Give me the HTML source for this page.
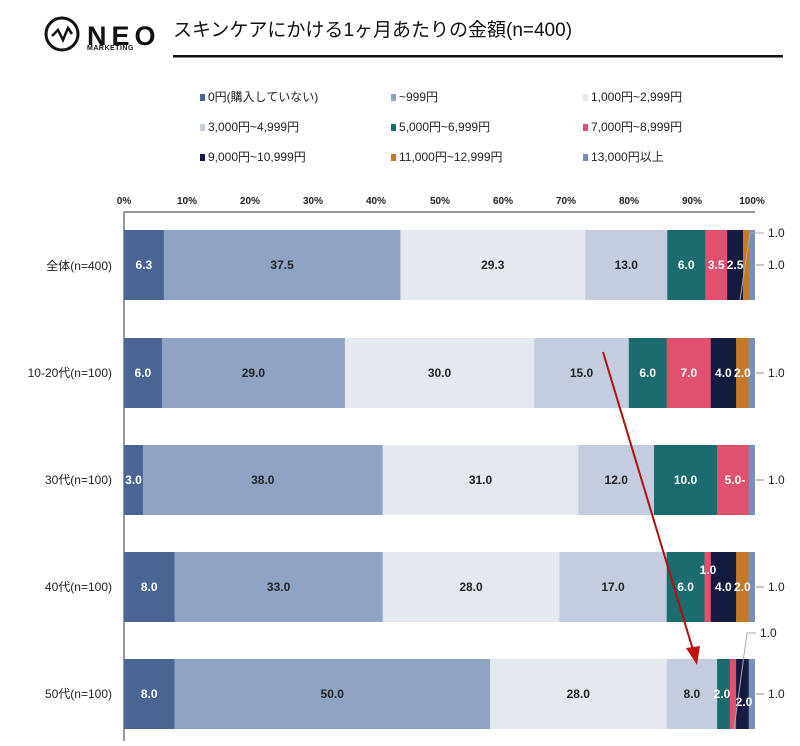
<!DOCTYPE html>
<html><head><meta charset="utf-8"><style>
body{margin:0;background:#fff;}
svg text{font-family:"Liberation Sans","Noto Sans CJK JP",sans-serif;}
</style></head><body>
<svg width="800" height="741" xmlns="http://www.w3.org/2000/svg">
<rect width="800" height="741" fill="#fff"/>
<circle cx="62" cy="34" r="16" fill="none" stroke="#111" stroke-width="3"/>
<polyline points="52,36 58,30 63,40 68,28 72,34" fill="none" stroke="#111" stroke-width="2.5"/>
<text x="87" y="45" font-size="27" font-weight="bold" letter-spacing="5" fill="#111">NEO</text>
<text x="87" y="50" font-size="7" font-weight="bold" fill="#111" letter-spacing="0.5">MARKETING</text>
<text x="173" y="36" font-size="19" fill="#111">スキンケアにかける1ヶ月あたりの金額(n=400)</text>
<rect x="173" y="55" width="610" height="2.5" fill="#111"/>
<g font-size="12" fill="#222">
<rect x="200" y="94" width="5" height="7" fill="#4a6593"/><text x="208" y="101">0円(購入していない)</text>
<rect x="391" y="94" width="5" height="7" fill="#8fa3c4"/><text x="399" y="101">~999円</text>
<rect x="583" y="94" width="5" height="7" fill="#e4e9f0"/><text x="591" y="101">1,000円~2,999円</text>
<rect x="200" y="124" width="5" height="7" fill="#c4cde0"/><text x="208" y="131">3,000円~4,999円</text>
<rect x="391" y="124" width="5" height="7" fill="#1c6b6e"/><text x="399" y="131">5,000円~6,999円</text>
<rect x="583" y="124" width="5" height="7" fill="#e0506f"/><text x="591" y="131">7,000円~8,999円</text>
<rect x="200" y="154" width="5" height="7" fill="#151a40"/><text x="208" y="161">9,000円~10,999円</text>
<rect x="391" y="154" width="5" height="7" fill="#c27a25"/><text x="399" y="161">11,000円~12,999円</text>
<rect x="583" y="154" width="5" height="7" fill="#7a8fb8"/><text x="591" y="161">13,000円以上</text>
</g>
<g font-size="10" fill="#222" text-anchor="middle" font-weight="bold">
<text x="124" y="204">0%</text><text x="187" y="204">10%</text><text x="250" y="204">20%</text><text x="313" y="204">30%</text><text x="376" y="204">40%</text><text x="440" y="204">50%</text><text x="503" y="204">60%</text><text x="566" y="204">70%</text><text x="629" y="204">80%</text><text x="692" y="204">90%</text><text x="752" y="204">100%</text>
</g>
<line x1="124" y1="212" x2="755" y2="212" stroke="#333"/>
<line x1="124" y1="212" x2="124" y2="741" stroke="#333"/>

<!-- Row 1 -->
<g>
<rect x="124" y="230" width="40" height="70" fill="#4a6593"/>
<rect x="163.8" y="230" width="237" height="70" fill="#8fa3c4"/>
<rect x="400.4" y="230" width="185.2" height="70" fill="#e4e9f0"/>
<rect x="585.3" y="230" width="82.3" height="70" fill="#c4cde0"/>
<rect x="667.3" y="230" width="38.2" height="70" fill="#1c6b6e"/>
<rect x="705.2" y="230" width="22.3" height="70" fill="#e0506f"/>
<rect x="727.2" y="230" width="16.1" height="70" fill="#151a40"/>
<rect x="743" y="230" width="6.6" height="70" fill="#c27a25"/>
<rect x="749.3" y="230" width="5.7" height="70" fill="#7a8fb8"/>
</g>
<!-- Row 2 -->
<g>
<rect x="124" y="338" width="38.2" height="70" fill="#4a6593"/>
<rect x="161.9" y="338" width="183.3" height="70" fill="#8fa3c4"/>
<rect x="344.9" y="338" width="189.6" height="70" fill="#e4e9f0"/>
<rect x="534.2" y="338" width="94.9" height="70" fill="#c4cde0"/>
<rect x="628.8" y="338" width="38.2" height="70" fill="#1c6b6e"/>
<rect x="666.7" y="338" width="44.4" height="70" fill="#e0506f"/>
<rect x="710.8" y="338" width="25.6" height="70" fill="#151a40"/>
<rect x="736.1" y="338" width="12.9" height="70" fill="#c27a25"/>
<rect x="748.7" y="338" width="6.3" height="70" fill="#7a8fb8"/>
</g>
<!-- Row 3 -->
<g>
<rect x="124" y="445" width="19.2" height="70" fill="#4a6593"/>
<rect x="142.9" y="445" width="240.1" height="70" fill="#8fa3c4"/>
<rect x="382.7" y="445" width="195.9" height="70" fill="#e4e9f0"/>
<rect x="578.3" y="445" width="76" height="70" fill="#c4cde0"/>
<rect x="654" y="445" width="63.4" height="70" fill="#1c6b6e"/>
<rect x="717.1" y="445" width="31.9" height="70" fill="#e0506f"/>
<rect x="748.7" y="445" width="6.3" height="70" fill="#7a8fb8"/>
</g>
<!-- Row 4 -->
<g>
<rect x="124" y="552" width="50.8" height="70" fill="#4a6593"/>
<rect x="174.5" y="552" width="208.5" height="70" fill="#8fa3c4"/>
<rect x="382.7" y="552" width="177" height="70" fill="#e4e9f0"/>
<rect x="559.4" y="552" width="107.6" height="70" fill="#c4cde0"/>
<rect x="666.7" y="552" width="38.1" height="70" fill="#1c6b6e"/>
<rect x="704.5" y="552" width="6.6" height="70" fill="#e0506f"/>
<rect x="710.8" y="552" width="25.6" height="70" fill="#151a40"/>
<rect x="736.1" y="552" width="12.9" height="70" fill="#c27a25"/>
<rect x="748.7" y="552" width="6.3" height="70" fill="#7a8fb8"/>
</g>
<!-- Row 5 -->
<g>
<rect x="124" y="659" width="50.8" height="70" fill="#4a6593"/>
<rect x="174.5" y="659" width="315.8" height="70" fill="#8fa3c4"/>
<rect x="490" y="659" width="177" height="70" fill="#e4e9f0"/>
<rect x="666.7" y="659" width="50.7" height="70" fill="#c4cde0"/>
<rect x="717.1" y="659" width="13" height="70" fill="#1c6b6e"/>
<rect x="729.8" y="659" width="6.6" height="70" fill="#e0506f"/>
<rect x="736.1" y="659" width="12.9" height="70" fill="#151a40"/>
<rect x="748.7" y="659" width="6.3" height="70" fill="#7a8fb8"/>
</g>

<g font-size="12" font-weight="bold" text-anchor="middle" fill="#fff">
<text x="143.9" y="269">6.3</text>
<text x="282.1" y="269" fill="#222">37.5</text>
<text x="492.8" y="269" fill="#222">29.3</text>
<text x="626.3" y="269" fill="#222">13.0</text>
<text x="686.2" y="269">6.0</text>
<text x="716.2" y="269">3.5</text>
<text x="735.1" y="269">2.5</text>

<text x="142.9" y="377">6.0</text>
<text x="253.4" y="377" fill="#222">29.0</text>
<text x="439.5" y="377" fill="#222">30.0</text>
<text x="581.5" y="377" fill="#222">15.0</text>
<text x="647.7" y="377">6.0</text>
<text x="688.8" y="377">7.0</text>
<text x="723.4" y="377">4.0</text>
<text x="742.4" y="377">2.0</text>

<text x="133.5" y="484">3.0</text>
<text x="262.8" y="484" fill="#222">38.0</text>
<text x="480.5" y="484" fill="#222">31.0</text>
<text x="616.2" y="484" fill="#222">12.0</text>
<text x="685.5" y="484">10.0</text>
<text x="735" y="484">5.0-</text>

<text x="149.2" y="591">8.0</text>
<text x="278.6" y="591" fill="#222">33.0</text>
<text x="471" y="591" fill="#222">28.0</text>
<text x="613" y="591" fill="#222">17.0</text>
<text x="685.6" y="591">6.0</text>
<text x="708" y="574">1.0</text>
<text x="723.4" y="591">4.0</text>
<text x="742.4" y="591">2.0</text>

<text x="149.2" y="698">8.0</text>
<text x="332.2" y="698" fill="#222">50.0</text>
<text x="578.3" y="698" fill="#222">28.0</text>
<text x="691.9" y="698" fill="#222">8.0</text>
<text x="722" y="698">2.0</text>
<text x="744" y="706">2.0</text>
</g>

<g font-size="12" fill="#222">
<line x1="756" y1="265" x2="764" y2="265" stroke="#888"/><text x="768" y="269">1.0</text>
<line x1="756" y1="373" x2="764" y2="373" stroke="#888"/><text x="768" y="377">1.0</text>
<line x1="756" y1="480" x2="764" y2="480" stroke="#888"/><text x="768" y="484">1.0</text>
<line x1="756" y1="587" x2="764" y2="587" stroke="#888"/><text x="768" y="591">1.0</text>
<line x1="756" y1="694" x2="764" y2="694" stroke="#888"/><text x="768" y="698">1.0</text>
<polyline points="740,300 750,233 764,233" fill="none" stroke="#aaa"/><text x="768" y="237">1.0</text>
<polyline points="734,729 747,633 756,633" fill="none" stroke="#aaa"/><text x="760" y="637">1.0</text>
</g>

<line x1="603" y1="352" x2="693" y2="650" stroke="#b01010" stroke-width="2"/>
<polygon points="686,648 700,646 697,665" fill="#c01010"/>

<g font-size="12" fill="#222" text-anchor="end">
<text x="112" y="270">全体(n=400)</text>
<text x="112" y="377">10-20代(n=100)</text>
<text x="112" y="484">30代(n=100)</text>
<text x="112" y="591">40代(n=100)</text>
<text x="112" y="698">50代(n=100)</text>
</g>
</svg>
</body></html>
